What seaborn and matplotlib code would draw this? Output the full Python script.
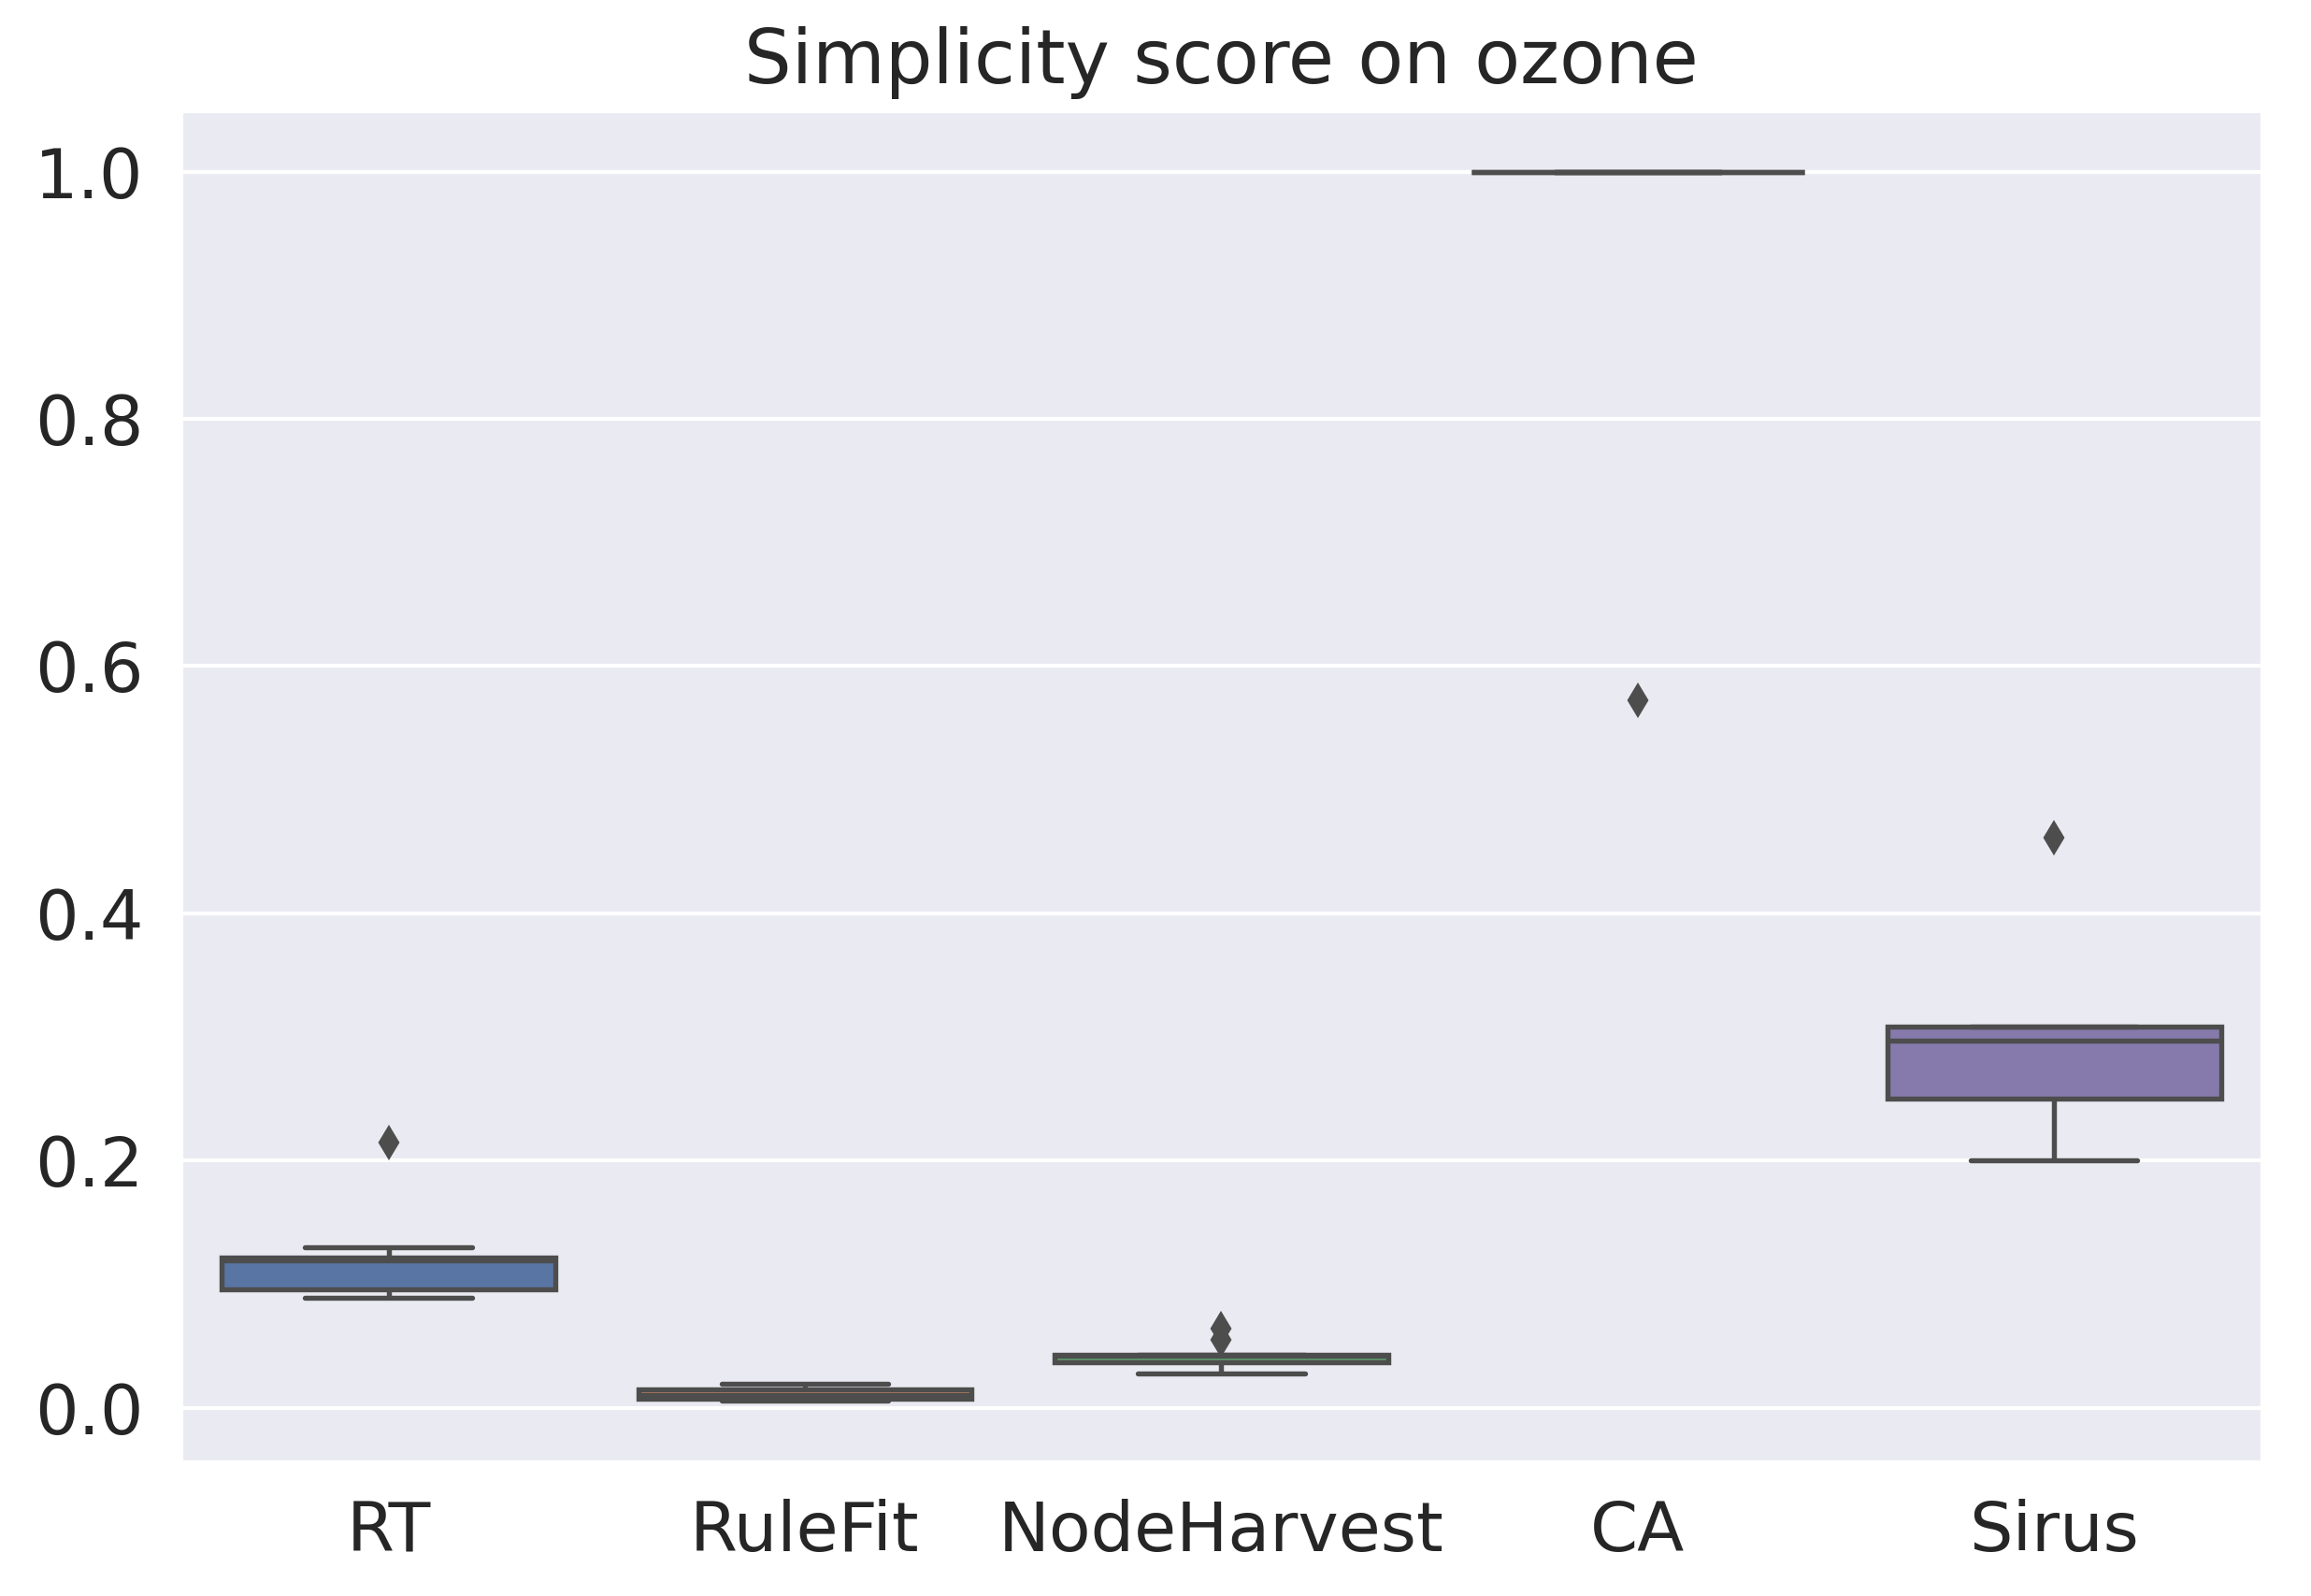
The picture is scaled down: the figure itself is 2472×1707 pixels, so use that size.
import matplotlib
matplotlib.use('Agg')
import matplotlib.pyplot as plt
import seaborn as sns
import pandas as pd

metodos = ['RT', 'RuleFit', 'NodeHarvest', 'CA', 'Sirus']

# scores per fold
rt = [0.089, 0.092, 0.095, 0.097, 0.119, 0.120, 0.121, 0.122, 0.130, 0.2145]
rulefit = [0.0058, 0.0065, 0.0070, 0.0082, 0.0095, 0.0105, 0.0145, 0.0150, 0.018, 0.019]
nodeharvest = [0.0277, 0.0350, 0.0362, 0.0370, 0.0420, 0.0424, 0.0424, 0.0428, 0.0548, 0.0641]
ca = [1.0, 1.0, 1.0, 1.0, 1.0, 1.0, 1.0, 1.0, 1.0, 0.572]
sirus = [0.200, 0.235, 0.250, 0.250, 0.294, 0.300, 0.308, 0.308, 0.308, 0.461]

valores = [rt, rulefit, nodeharvest, ca, sirus]
dados = pd.DataFrame({
    'metodo': [m for m, v in zip(metodos, valores) for _ in v],
    'score': [x for v in valores for x in v],
})

sns.set_theme(style='darkgrid')
cinza = '#4d4d4d'

fig, ax = plt.subplots(figsize=(8.24, 5.69), dpi=300)
sns.boxplot(data=dados, x='metodo', y='score', hue='metodo', order=metodos,
            palette='deep', saturation=0.75, legend=False, ax=ax,
            linecolor=cinza, linewidth=1.3, width=0.8,
            flierprops=dict(marker='d', markerfacecolor=cinza, markeredgecolor=cinza,
                            markersize=5))
ax.set_title('Simplicity score on ozone', fontsize=19.2, pad=7)
ax.set_xlabel('')
ax.set_ylabel('')
ax.tick_params(axis='both', labelsize=17.6)
ax.xaxis.grid(False)
fig.subplots_adjust(left=0.078, right=0.979, top=0.931, bottom=0.084)
plt.savefig('out.png', dpi=300)
